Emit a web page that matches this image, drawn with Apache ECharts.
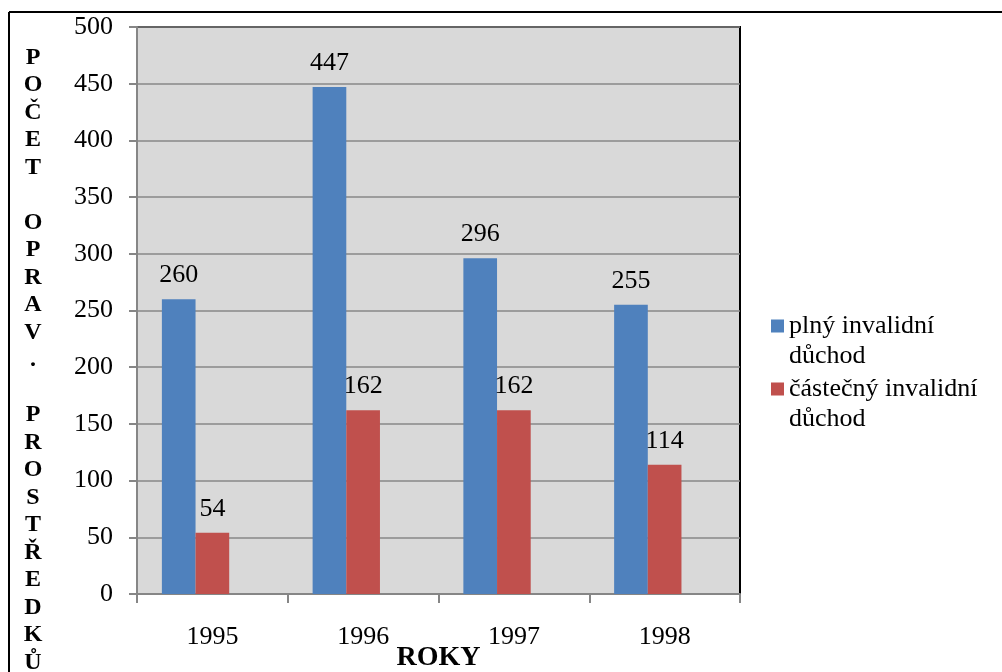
<!DOCTYPE html>
<html>
<head>
<meta charset="utf-8">
<script src="https://cdn.jsdelivr.net/npm/echarts@6/dist/echarts.min.js"></script>
<style>html,body{margin:0;padding:0;background:#fff}#c{width:1002px;height:672px}</style>
</head>
<body>
<div id="c"></div>
<script>
const categories = ['1995', '1996', '1997', '1998'];
const seriesNames = ['plný invalidní důchod', 'částečný invalidní důchod'];
const plny = [260, 447, 296, 255];
const castecny = [54, 162, 162, 114];
const emptySlot = ['-', '-', '-', '-'];
const yTitle = 'POČET OPRAV. PROSTŘEDKŮ';
const xTitle = 'ROKY';
const legendText = {
  'plný invalidní důchod': 'plný invalidní\ndůchod',
  'částečný invalidní důchod': 'částečný invalidní\ndůchod'
};

const FONT = "'Liberation Serif', 'Times New Roman', serif";
const chart = echarts.init(document.getElementById('c'), null, {renderer: 'canvas'});
const labelCfg = {show: true, position: 'top', distance: 11, fontFamily: FONT, fontSize: 26, color: '#000'};
chart.setOption({
  animation: false,
  backgroundColor: '#fff',
  grid: {left: 137, right: 262, top: 27, bottom: 78, containLabel: false, outerBoundsMode: 'none',
    show: true, backgroundColor: '#d9d9d9', borderColor: '#000', borderWidth: 2},
  legend: {
    orient: 'vertical', left: 766, top: 306, itemWidth: 13, itemHeight: 43, itemGap: 3,
    data: seriesNames,
    icon: 'path://M0,0h13v13h-13z M0,42.99h0.01v0.01h-0.01z',
    formatter: n => legendText[n],
    textStyle: {fontFamily: FONT, fontSize: 26, lineHeight: 30, color: '#000'}
  },
  xAxis: {
    type: 'category', data: categories,
    name: xTitle, nameLocation: 'middle', nameGap: 50, nameMoveOverlap: false,
    nameTextStyle: {fontFamily: FONT, fontSize: 28, fontWeight: 'bold', color: '#000'},
    axisLine: {lineStyle: {color: '#868686', width: 2}},
    axisTick: {show: true, length: 9, lineStyle: {color: '#868686', width: 2}},
    axisLabel: {fontFamily: FONT, fontSize: 26, color: '#000', margin: 30}
  },
  yAxis: {
    type: 'value', min: 0, max: 500, interval: 50,
    axisLine: {show: true, lineStyle: {color: '#868686', width: 2}},
    axisTick: {show: true, length: 8, lineStyle: {color: '#868686', width: 2}},
    axisLabel: {fontFamily: FONT, fontSize: 26, color: '#000', margin: 24},
    splitLine: {lineStyle: {color: '#878787', width: 1.5}}
  },
  graphic: [
    {type: 'line', shape: {x1: 9, y1: 12, x2: 1002, y2: 12}, style: {stroke: '#000', lineWidth: 2}},
    {type: 'line', shape: {x1: 9, y1: 12, x2: 9, y2: 672}, style: {stroke: '#000', lineWidth: 2}},
    {type: 'text', x: 33, y: 44, style: {
      text: yTitle.split('').join('\n'), font: 'bold 24px ' + FONT, lineHeight: 27.5,
      textAlign: 'center', textVerticalAlign: 'top', fill: '#000'}}
  ],
  series: [
    {name: seriesNames[0], type: 'bar', data: plny, barGap: '0%', barCategoryGap: '33%', itemStyle: {color: '#4f81bd'}, label: labelCfg},
    {name: seriesNames[1], type: 'bar', data: castecny, itemStyle: {color: '#c0504d'}, label: labelCfg},
    {name: '', type: 'bar', data: emptySlot}
  ]
});
</script>
</body>
</html>
